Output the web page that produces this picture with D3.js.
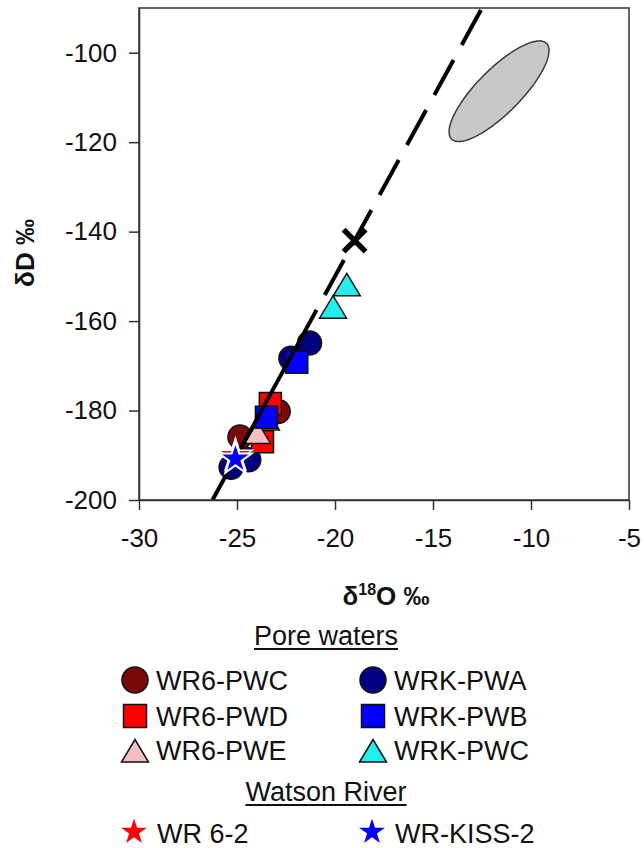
<!DOCTYPE html>
<html>
<head>
<meta charset="utf-8">
<script src="https://cdn.jsdelivr.net/npm/d3@7"></script>
<style>
  html, body { margin: 0; padding: 0; background: #fff; }
  svg { display: block; font-family: "Liberation Sans", Arial, sans-serif; }
</style>
</head>
<body>
<svg id="chart" width="644" height="848"></svg>
<script>
// ---------------- DATA ----------------
const xTicks = [-30, -25, -20, -15, -10, -5];
const yTicks = [-100, -120, -140, -160, -180, -200];

// series: [δ18O, δD]
const wr6PWC  = [[-24.85, -185.9], [-22.9, -180.2]];
const wrkPWA  = [[-21.3, -164.9], [-22.25, -168.3], [-25.3, -192.7], [-24.4, -191.0]];
const wr6PWD  = [[-23.3, -178.4], [-23.7, -187.0]];
const wr6PWE  = [[-23.5, -182.0], [-23.95, -185.0]];
const wrkPWB  = [[-21.95, -169.2], [-23.5, -181.5]];
const wrkPWC  = [[-19.4, -151.9], [-20.1, -156.9]];
const wr62    = [[-25.08, -190.1]];
const wrKISS2 = [[-25.08, -190.8]];

// meteoric water line δD = 8·δ18O + 10 (solid part and dashed extension)
const mwlSolid  = [[-26.25, -200], [-20.94, -157.5]];
const mwlDashed = [[-20.94, -157.5], [-12.5, -90]];
// cross marker
const crossPoint = [[-19.0, -142.0]];
// shaded ellipse: centre, half-major vector, half-minor vector (data units)
const ellipseCentre = [-11.63, -108.6];
const ellipseMajor  = [2.42, 10.7];
const ellipseMinor  = [0.80, -3.45];

const legendPore = [
  {name: "WR6-PWC", shape: "circle",   fill: "#7a0a0a"},
  {name: "WRK-PWA", shape: "circle",   fill: "#000080"},
  {name: "WR6-PWD", shape: "square",   fill: "#ff0000"},
  {name: "WRK-PWB", shape: "square",   fill: "#0000ff"},
  {name: "WR6-PWE", shape: "triangle", fill: "#f7c0c0"},
  {name: "WRK-PWC", shape: "triangle", fill: "#22eeee"}
];
const legendRiver = [
  {name: "WR 6-2",    shape: "star", fill: "#ff0000"},
  {name: "WR-KISS-2", shape: "star", fill: "#0000ff"}
];

// ---------------- LAYOUT ----------------
const svg = d3.select("#chart");
const pL = 139, pR = 629, pT = 8, pB = 500;
const x = d3.scaleLinear().domain([-30, -5]).range([pL, pR]);
const y = d3.scaleLinear().domain([-200, -90]).range([pB, pT]);

const ink = "#111";

function shapePath(shape, s) {
  if (shape === "circle") return d3.symbol(d3.symbolCircle, Math.PI * s * s)();
  if (shape === "square") return `M${-s},${-s}H${s}V${s}H${-s}Z`;
  if (shape === "triangle") return `M0,${-s * 0.92}L${s * 1.08},${s * 0.88}L${-s * 1.08},${s * 0.88}Z`;
  if (shape === "star") return d3.symbol(d3.symbolStar, s * s / 0.8908130915292852)();
}

svg.append("defs").append("clipPath").attr("id", "plotclip")
  .append("rect").attr("x", pL).attr("y", pT).attr("width", pR - pL).attr("height", pB - pT);

// ellipse
const ellT = d3.range(0, 2 * Math.PI, Math.PI / 90);
const ellPts = ellT.map(t => [
  ellipseCentre[0] + ellipseMajor[0] * Math.cos(t) + ellipseMinor[0] * Math.sin(t),
  ellipseCentre[1] + ellipseMajor[1] * Math.cos(t) + ellipseMinor[1] * Math.sin(t)
]);
svg.append("path")
  .attr("d", d3.line().x(d => x(d[0])).y(d => y(d[1])).curve(d3.curveLinearClosed)(ellPts))
  .attr("fill", "#c8c8c8").attr("stroke", "#3a3a3a").attr("stroke-width", 1.5);

// points
const plotG = svg.append("g").attr("clip-path", "url(#plotclip)");
function drawSeries(data, shape, fill, s, stroke, sw) {
  plotG.selectAll(null).data(data).enter().append("path")
    .attr("d", shapePath(shape, s))
    .attr("transform", d => `translate(${x(d[0])},${y(d[1])})`)
    .attr("fill", fill).attr("stroke", stroke).attr("stroke-width", sw);
}
drawSeries(wr6PWC, "circle", "#7a0a0a", 12, "#111", 1.5);
drawSeries(wrkPWA, "circle", "#000080", 12, "#111", 1.5);
drawSeries(wr6PWD, "square", "#ff0000", 11, "#111", 1.5);
drawSeries(wr6PWE, "triangle", "#f7c0c0", 12, "#111", 1.5);
drawSeries(wrkPWB, "square", "#0000ff", 11, "#111", 1.5);
drawSeries(wrkPWC, "triangle", "#22eeee", 12.5, "#111", 1.5);

// meteoric water line
const ln = d3.line().x(d => x(d[0])).y(d => y(d[1]));
plotG.append("path").attr("d", ln(mwlSolid)).attr("fill", "none")
  .attr("stroke", "#000").attr("stroke-width", 4);
plotG.append("path").attr("d", ln(mwlDashed)).attr("fill", "none")
  .attr("stroke", "#000").attr("stroke-width", 4)
  .attr("stroke-dasharray", "40,17").attr("stroke-dashoffset", 40);

// stars on top
drawSeries(wr62, "star", "#ff0000", 17.5, "#fff", 1.5);
drawSeries(wrKISS2, "star", "#0000ff", 17, "#fff", 2);

// cross
plotG.selectAll(null).data(crossPoint).enter().append("path")
  .attr("d", "M-11,-11L11,11M-11,11L11,-11")
  .attr("transform", d => `translate(${x(d[0])},${y(d[1])})`)
  .attr("stroke", "#000").attr("stroke-width", 5.5).attr("fill", "none");

// frame
svg.append("rect").attr("x", pL).attr("y", pT).attr("width", pR - pL).attr("height", pB - pT)
  .attr("fill", "none").attr("stroke", "#333").attr("stroke-width", 1.5);

// axes
const fmt = d => String(d);
const xAxis = svg.append("g").attr("transform", `translate(0,${pB})`)
  .call(d3.axisBottom(x).tickValues(xTicks).tickSize(10).tickSizeOuter(0).tickPadding(19).tickFormat(fmt));
const yAxis = svg.append("g").attr("transform", `translate(${pL},0)`)
  .call(d3.axisLeft(y).tickValues(yTicks).tickSize(10).tickSizeOuter(0).tickPadding(12).tickFormat(fmt));
[xAxis, yAxis].forEach(g => {
  g.select(".domain").attr("stroke", "#333").attr("stroke-width", 1.5);
  g.selectAll(".tick line").attr("stroke", "#333").attr("stroke-width", 1.5);
  g.selectAll(".tick text").attr("fill", ink).attr("font-size", 26)
    .attr("font-family", "'Liberation Sans', Arial, sans-serif");
});

// axis titles
svg.append("text").attr("transform", "translate(34,253) rotate(-90)")
  .attr("text-anchor", "middle").attr("font-weight", "bold").attr("font-size", 26).attr("fill", ink)
  .text("δD ‰");
const xt = svg.append("text").attr("x", 386).attr("y", 605).attr("text-anchor", "middle")
  .attr("font-weight", "bold").attr("font-size", 26).attr("fill", ink);
xt.append("tspan").text("δ");
xt.append("tspan").attr("font-size", 16).attr("dy", -10).text("18");
xt.append("tspan").attr("dy", 10).text("O ‰");

// legend
function heading(label, cx, baseline) {
  const t = svg.append("text").attr("x", cx).attr("y", baseline).attr("text-anchor", "middle")
    .attr("font-size", 27).attr("fill", ink).text(label);
  const w = t.node().getComputedTextLength();
  svg.append("line").attr("x1", cx - w / 2).attr("x2", cx + w / 2)
    .attr("y1", baseline + 4).attr("y2", baseline + 4).attr("stroke", ink).attr("stroke-width", 2);
}
heading("Pore waters", 326, 645);
heading("Watson River", 326, 801);

const colX = [135, 373];
const rowBase = [690, 726, 760];
legendPore.forEach((d, i) => {
  const cx = colX[i % 2], base = rowBase[Math.floor(i / 2)];
  const s = d.shape === "circle" ? 13 : (d.shape === "square" ? 11.5 : 12.5);
  const dyc = d.shape === "triangle" ? -9 : -10;
  svg.append("path").attr("d", shapePath(d.shape, s))
    .attr("transform", `translate(${cx},${base + dyc})`)
    .attr("fill", d.fill).attr("stroke", "#111").attr("stroke-width", 1.5);
  svg.append("text").attr("x", cx + 21).attr("y", base).attr("font-size", 27).attr("fill", ink).text(d.name);
});
legendRiver.forEach((d, i) => {
  const cx = colX[i];
  svg.append("path").attr("d", shapePath("star", 13.5))
    .attr("transform", `translate(${cx - 1},${832})`).attr("fill", d.fill);
  svg.append("text").attr("x", cx + 22).attr("y", 843).attr("font-size", 27).attr("fill", ink).text(d.name);
});
</script>
</body>
</html>
